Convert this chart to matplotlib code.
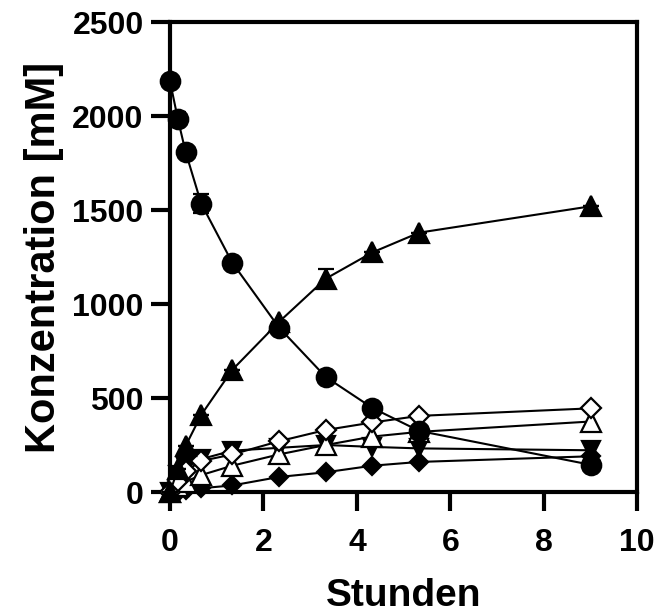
import matplotlib
matplotlib.use("Agg")
import matplotlib.pyplot as plt

plt.rcParams['font.family'] = ['Liberation Sans', 'DejaVu Sans']
plt.rcParams['font.weight'] = 'bold'

# time in hours
t = [0, 0.167, 0.333, 0.667, 1.333, 2.333, 3.333, 4.333, 5.333, 9.0]

circle_vals = [2185, 1985, 1810, 1535, 1220, 875, 612, 447, 325, 145]
circle_err = [0, 35, 0, 50, 0, 0, 0, 0, 25, 0]

tri_up_vals = [0, 120, 245, 410, 650, 905, 1135, 1275, 1380, 1520]
tri_up_err = [0, 0, 0, 0, 0, 0, 50, 0, 0, 0]

diamond_open_vals = [0, 60, 110, 165, 200, 270, 330, 370, 405, 445]
tri_open_vals = [0, 30, 55, 90, 140, 200, 250, 295, 320, 375]
tri_down_vals = [0, 90, 135, 175, 220, 235, 250, 240, 232, 222]
diamond_filled_vals = [0, 0, 10, 20, 35, 80, 105, 140, 160, 190]

xticks = [0, 2, 4, 6, 8, 10]
yticks = [0, 500, 1000, 1500, 2000, 2500]

fig = plt.figure(figsize=(6.59, 6.15), dpi=100)
ax = fig.add_axes([0.258, 0.2, 0.709, 0.764])

lw = 1.5
common = dict(color='black', lw=lw, clip_on=False, mec='black', mew=1.6)

ax.plot(t, diamond_filled_vals, marker='D', ms=9.5, mfc='black', zorder=3, **common)
ax.plot(t, tri_down_vals, marker='v', ms=13, mfc='black', zorder=3, **common)
ax.plot(t, tri_open_vals, marker='^', ms=14, mfc='white', zorder=4, **common)
ax.plot(t, diamond_open_vals, marker='D', ms=10, mfc='white', zorder=4, **common)
ax.errorbar(t, tri_up_vals, yerr=tri_up_err, marker='^', ms=14, mfc='black',
            capsize=6, capthick=2.5, elinewidth=2, ecolor='black', zorder=5, **common)
ax.errorbar(t, circle_vals, yerr=circle_err, marker='o', ms=14, mfc='black',
            capsize=6, capthick=2.5, elinewidth=2, ecolor='black', zorder=6, **common)

ax.set_xlim(0, 10)
ax.set_ylim(0, 2500)
ax.set_xticks(xticks)
ax.set_yticks(yticks)
ax.set_xticklabels([str(v) for v in xticks], fontsize=23, fontweight='bold')
ax.set_yticklabels([str(v) for v in yticks], fontsize=23, fontweight='bold')
ax.tick_params(axis='both', direction='out', length=14, width=3)
ax.tick_params(axis='x', pad=12)
ax.tick_params(axis='y', pad=5)

for s in ax.spines.values():
    s.set_linewidth(3)

ax.set_xlabel('Stunden', fontsize=28, fontweight='bold', labelpad=14)
ax.set_ylabel('Konzentration [mM]', fontsize=30, fontweight='bold', labelpad=6)

fig.savefig('out.png', dpi=100)
